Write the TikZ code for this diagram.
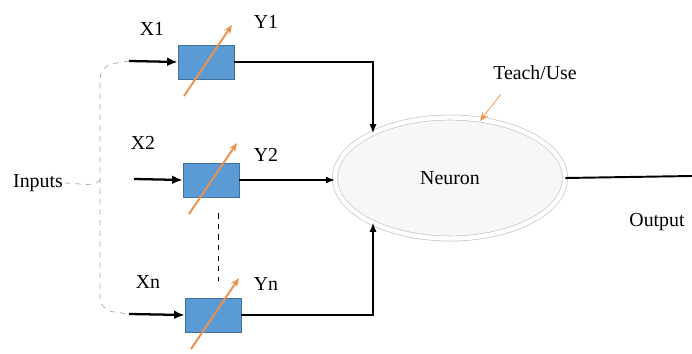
\documentclass[tikz,border=0pt]{standalone}
\usepackage{fontspec}
\setmainfont{Liberation Serif}
\usepackage{xcolor}
\usetikzlibrary{shapes.geometric,arrows.meta,positioning,calc,shadows}

\definecolor{wblue}{RGB}{91,155,213}
\definecolor{wedge}{RGB}{65,113,156}
\definecolor{worange}{RGB}{237,145,75}

\begin{document}
\begin{tikzpicture}[
    x=0.02cm, y=-0.02cm,
    font=\fontsize{11.3}{13}\selectfont,
    weight/.style={draw=wedge, fill=wblue, rectangle, minimum width=1.12cm, minimum height=0.68cm, inner sep=0pt},
    lbl/.style={inner sep=1pt},
    inarr/.style={-{Latex[length=6pt,width=5pt]}, line width=1.3pt},
    conn/.style={-{Latex[length=5pt,width=4pt]}, semithick},
    warr/.style={-{Stealth[length=5pt,width=4pt]}, worange, line width=1.1pt},
    brace/.style={gray!70, dashed, thin},
    neuronstyle/.style={draw=gray!45, ellipse, fill=gray!6, double=white, double distance=2.5pt, minimum width=4.6cm, minimum height=2.42cm,
      drop shadow={opacity=0.2, shadow xshift=0pt, shadow yshift=-1.5pt}},
]
\useasboundingbox (0,0) rectangle (692,354);

% Weights
\node[weight] (w1) at (206,62) {};
\node[weight] (w2) at (211,180) {};
\node[weight] (wn) at (213,315) {};

% Neuron
\node[neuronstyle] (neuron) at (450,178) {Neuron};

% Labels
\node[lbl] (lx1) at (152,29) {X1};
\node[lbl] (ly1) at (266,22) {Y1};
\node[lbl] (lx2) at (143,143) {X2};
\node[lbl] (ly2) at (266,155) {Y2};
\node[lbl] (lxn) at (148,282) {Xn};
\node[lbl] (lyn) at (266,284) {Yn};
\node[lbl] (inp) at (38,183) {Inputs};
\node[lbl] (teach) at (535,73) {Teach/Use};
\node[lbl] (outl) at (657,222) {Output};

% Free ends
\coordinate (in1) at (129,61);
\coordinate (in2) at (134,179);
\coordinate (inn) at (129,314);
\coordinate (n1) at (373,133);
\coordinate (nn) at (373,223);
\coordinate (tu) at (480,121);
\coordinate (out) at (692,176);

% Inputs brace
\draw[brace, rounded corners=7] (in1) -- (100,66) -- (100,310) -- (inn);
\draw[brace, rounded corners=5] (inp.east) -- (96,185) -- (100,181);

% Input arrows
\draw[inarr] (in1) -- (w1.west);
\draw[inarr] (in2) -- (w2.west);
\draw[inarr] (inn) -- (wn.west);

% Adjustable weights
\foreach \w in {w1,w2,wn}
  \draw[warr] ($(\w.center)+(-22,34)$) -- ($(\w.center)+(26,-37)$);

% Dots between weights
\draw[dashed, thin] ($(w2.south)+(7,16)$) -- ($(wn.north)+(5,-17)$);

% Into neuron
\draw[conn] (w1.east) -| (n1);
\draw[conn] (w2.east) -- (w2.east -| neuron.west);
\draw[conn] (wn.east) -| (nn);
\draw[warr, thin] ($(teach.south)+(-34,12)$) -- (tu);

% Output
\draw[line width=1.1pt] (neuron.east) -- (out);

\end{tikzpicture}
\end{document}
